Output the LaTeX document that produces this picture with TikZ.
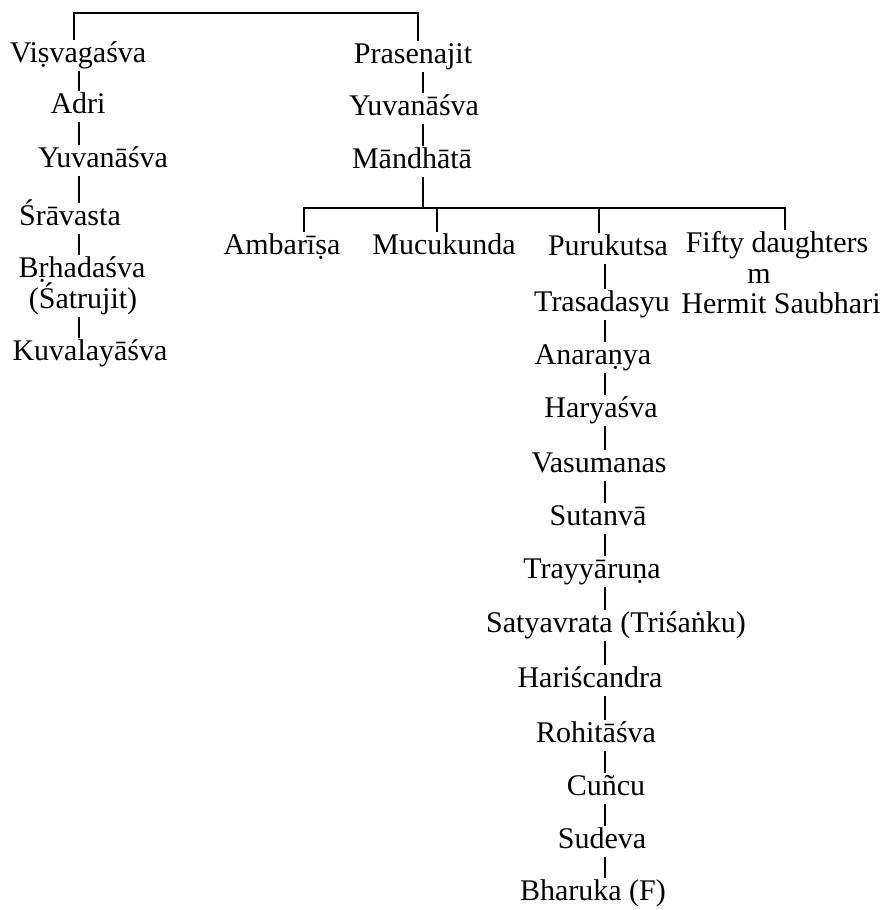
\documentclass[tikz,border=0pt]{standalone}
\usepackage{fontspec}
\setmainfont{Liberation Serif}
\usetikzlibrary{positioning}

\begin{document}
\begin{tikzpicture}[x=0.5pt, y=0.5pt,
    nm/.style={inner sep=1pt, text height=10pt, text depth=3.2pt, anchor=base,
              font=\fontsize{15}{18}\selectfont},
    ln/.style={line width=0.9pt}
]
    \useasboundingbox (0,0) rectangle (892,-910);
    \coordinate (lcol) at (79,0);
    \coordinate (rcol) at (423,0);
    \coordinate (tcol) at (605,0);
    \coordinate (topbar) at (250,-13);
    \coordinate (mbar) at (423,-208);
    % first line
    \node[nm] (vis) at (78,-62) {Viṣvagaśva};
    \node[nm] (adri) at (78,-113) {Adri};
    \node[nm] (yuvl) at (103,-167) {Yuvanāśva};
    \node[nm] (srav) at (70,-225) {Śrāvasta};
    \node[nm] (brh) at (82,-277) {Bṛhadaśva};
    \node[nm] (satr) at (83,-308) {(Śatrujit)};
    \node[nm] (kuv) at (90,-360) {Kuvalayāśva};
    % second line
    \node[nm] (pra) at (413,-63) {Prasenajit};
    \node[nm] (yuvr) at (414,-115) {Yuvanāśva};
    \node[nm] (man) at (412,-168) {Māndhātā};
    \node[nm] (amb) at (282,-254) {Ambarīṣa};
    \node[nm] (muc) at (444,-254) {Mucukunda};
    \node[nm] (pur) at (608,-255) {Purukutsa};
    \node[nm] (fifty) at (777,-252) {Fifty daughters};
    \node[nm] (marr) at (759,-283) {m};
    \node[nm] (saub) at (781,-313) {Hermit Saubhari};
    \node[nm] (tras) at (602,-311) {Trasadasyu};
    \node[nm] (anar) at (593,-364) {Anaraṇya};
    \node[nm] (hary) at (601,-417) {Haryaśva};
    \node[nm] (vasu) at (599,-472) {Vasumanas};
    \node[nm] (sutan) at (598,-525) {Sutanvā};
    \node[nm] (tray) at (592,-578) {Trayyāruṇa};
    \node[nm] (saty) at (616,-632) {Satyavrata (Triśaṅku)};
    \node[nm] (hari) at (590,-687) {Hariścandra};
    \node[nm] (rohi) at (596,-742) {Rohitāśva};
    \node[nm] (cunc) at (606,-795) {Cuñcu};
    \node[nm] (sude) at (602,-848) {Sudeva};
    \node[nm] (bhar) at (593,-900) {Bharuka (F)};

    \draw[ln] ([xshift=-2pt]vis.north) |- (topbar) -| ([xshift=2.5pt]pra.north);
    \draw[ln] (vis.south -| lcol) -- (adri.north -| lcol);
    \draw[ln] (adri.south -| lcol) -- (yuvl.north -| lcol);
    \draw[ln] (yuvl.south -| lcol) -- (srav.north -| lcol);
    \draw[ln] (srav.south -| lcol) -- (brh.north -| lcol);
    \draw[ln] (satr.south -| lcol) -- (kuv.north -| lcol);

    \draw[ln] (pra.south -| rcol) -- (yuvr.north -| rcol);
    \draw[ln] (yuvr.south -| rcol) -- (man.north -| rcol);
    \draw[ln] (man.south -| mbar) -- (mbar);
    \draw[ln] ([xshift=11pt]amb.north) |- (mbar) -| ([xshift=4pt]fifty.north);
    \draw[ln] ([xshift=-3.5pt]muc.north) -- ([xshift=-3.5pt]muc.north |- mbar);
    \draw[ln] ([xshift=-4.5pt]pur.north) -- ([xshift=-4.5pt]pur.north |- mbar);

    \draw[ln] (pur.south -| tcol) -- (tras.north -| tcol);
    \draw[ln] (tras.south -| tcol) -- (anar.north -| tcol);
    \draw[ln] (anar.south -| tcol) -- (hary.north -| tcol);
    \draw[ln] (hary.south -| tcol) -- (vasu.north -| tcol);
    \draw[ln] (vasu.south -| tcol) -- (sutan.north -| tcol);
    \draw[ln] (sutan.south -| tcol) -- (tray.north -| tcol);
    \draw[ln] (tray.south -| tcol) -- (saty.north -| tcol);
    \draw[ln] (saty.south -| tcol) -- (hari.north -| tcol);
    \draw[ln] (hari.south -| tcol) -- (rohi.north -| tcol);
    \draw[ln] (rohi.south -| tcol) -- (cunc.north -| tcol);
    \draw[ln] (cunc.south -| tcol) -- (sude.north -| tcol);
    \draw[ln] (sude.south -| tcol) -- (bhar.north -| tcol);
\end{tikzpicture}
\end{document}
